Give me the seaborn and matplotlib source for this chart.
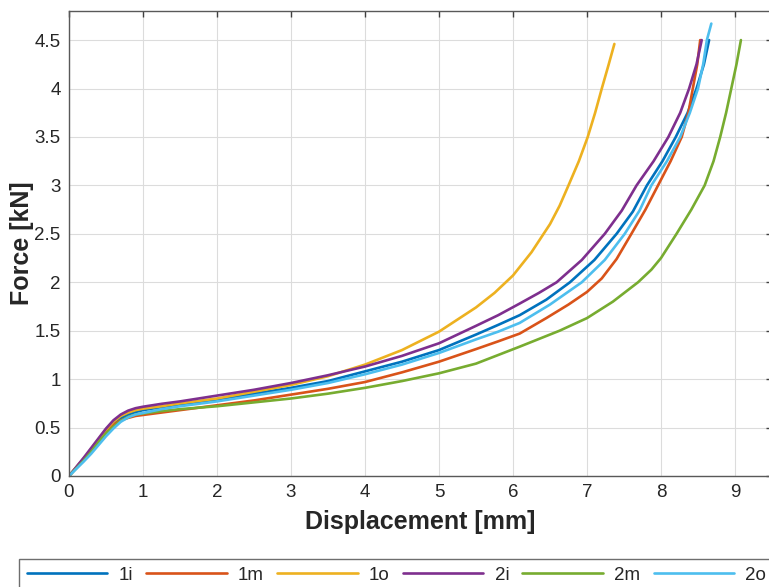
import matplotlib
matplotlib.use("Agg")
import numpy as np
import pandas as pd
import matplotlib.pyplot as plt
import seaborn as sns

# ---------------- data ----------------
names = ["1i", "1m", "1o", "2i", "2m", "2o"]
colors = ["#0072BD", "#D95319", "#EDB120", "#7E2F8E", "#77AC30", "#4DBEEE"]

x_1i = [0, 0.2, 0.3, 0.4, 0.5, 0.6, 0.7, 0.8, 0.9, 1.0, 1.25, 1.5, 2, 2.5, 3, 3.5, 4, 4.5, 5, 5.5, 5.8, 6.09,
        6.45, 6.77, 7.1, 7.40, 7.62, 7.81, 8.02, 8.20, 8.36, 8.48, 8.58, 8.65]
f_1i = [0, 0.17, 0.26, 0.36, 0.455, 0.535, 0.595, 0.635, 0.66, 0.68, 0.71, 0.74, 0.79, 0.85, 0.91, 0.98, 1.08, 1.18, 1.30, 1.46, 1.56, 1.66,
        1.82, 2.0, 2.23, 2.5, 2.73, 3.0, 3.25, 3.5, 3.75, 4.0, 4.25, 4.5]

x_1m = [0, 0.2, 0.3, 0.4, 0.5, 0.6, 0.7, 0.8, 0.9, 1.0, 1.25, 1.5, 2, 2.5, 3, 3.5, 4, 4.5, 5, 5.5, 5.8, 6.09,
        6.45, 6.75, 7.0, 7.2, 7.4, 7.6, 7.79, 7.96, 8.13, 8.28, 8.37, 8.43, 8.49, 8.53]
f_1m = [0, 0.18, 0.27, 0.37, 0.46, 0.53, 0.575, 0.60, 0.62, 0.63, 0.655, 0.68, 0.73, 0.78, 0.84, 0.90, 0.97, 1.07, 1.18, 1.31, 1.39, 1.47,
        1.63, 1.77, 1.90, 2.04, 2.24, 2.5, 2.75, 3.0, 3.25, 3.5, 3.75, 4.0, 4.25, 4.5]

x_1o = [0, 0.2, 0.3, 0.4, 0.5, 0.6, 0.7, 0.8, 0.9, 1.0, 1.25, 1.5, 2, 2.5, 3, 3.5, 4, 4.5, 5, 5.5, 5.75, 6.0,
        6.25, 6.5, 6.63, 6.75, 6.89, 7.01, 7.11, 7.2, 7.29, 7.37]
f_1o = [0, 0.18, 0.28, 0.38, 0.48, 0.56, 0.62, 0.655, 0.68, 0.695, 0.72, 0.75, 0.80, 0.87, 0.94, 1.03, 1.15, 1.30, 1.49, 1.74, 1.89, 2.07,
        2.31, 2.6, 2.79, 3.0, 3.25, 3.5, 3.75, 4.0, 4.24, 4.46]

x_2i = [0, 0.2, 0.3, 0.4, 0.5, 0.6, 0.7, 0.8, 0.9, 1.0, 1.25, 1.5, 2, 2.5, 3, 3.5, 4, 4.5, 5, 5.5, 5.8, 6.09,
        6.35, 6.59, 6.93, 7.24, 7.47, 7.67, 7.9, 8.10, 8.26, 8.38, 8.48, 8.55]
f_2i = [0, 0.19, 0.29, 0.39, 0.49, 0.575, 0.635, 0.675, 0.70, 0.715, 0.745, 0.77, 0.83, 0.89, 0.96, 1.04, 1.13, 1.24, 1.37, 1.55, 1.66, 1.78,
        1.89, 2.0, 2.23, 2.5, 2.74, 3.0, 3.25, 3.5, 3.75, 4.0, 4.25, 4.5]

x_2m = [0, 0.2, 0.3, 0.4, 0.5, 0.6, 0.7, 0.8, 0.9, 1.0, 1.25, 1.5, 2, 2.5, 3, 3.5, 4, 4.5, 5, 5.5, 6.09, 6.63,
        7.0, 7.35, 7.69, 7.87, 8.0, 8.21, 8.41, 8.59, 8.71, 8.8, 8.88, 8.95, 9.02, 9.08]
f_2m = [0, 0.16, 0.25, 0.35, 0.44, 0.51, 0.57, 0.61, 0.635, 0.645, 0.67, 0.69, 0.72, 0.76, 0.80, 0.85, 0.91, 0.98, 1.06, 1.16, 1.335, 1.5,
        1.63, 1.80, 2.0, 2.13, 2.25, 2.5, 2.75, 3.0, 3.25, 3.5, 3.75, 4.0, 4.25, 4.5]

x_2o = [0, 0.2, 0.3, 0.4, 0.5, 0.6, 0.7, 0.8, 0.9, 1.0, 1.25, 1.5, 2, 2.5, 3, 3.5, 4, 4.5, 5, 5.5, 5.8, 6.09,
        6.5, 6.93, 7.24, 7.51, 7.71, 7.87, 8.08, 8.26, 8.39, 8.5, 8.57, 8.62, 8.68]
f_2o = [0, 0.15, 0.23, 0.32, 0.41, 0.49, 0.56, 0.605, 0.635, 0.65, 0.69, 0.72, 0.77, 0.83, 0.89, 0.96, 1.05, 1.15, 1.27, 1.41, 1.49, 1.58,
        1.77, 2.0, 2.23, 2.5, 2.74, 3.0, 3.25, 3.5, 3.75, 4.0, 4.25, 4.5, 4.67]

x_ticks = [0, 1, 2, 3, 4, 5, 6, 7, 8, 9]
x_ticklabels = ["0", "1", "2", "3", "4", "5", "6", "7", "8", "9"]
y_ticks = [0, 0.5, 1, 1.5, 2, 2.5, 3, 3.5, 4, 4.5]
y_ticklabels = ["0", "0.5", "1", "1.5", "2", "2.5", "3", "3.5", "4", "4.5"]

xs = [x_1i, x_1m, x_1o, x_2i, x_2m, x_2o]
fs = [f_1i, f_1m, f_1o, f_2i, f_2m, f_2o]

frames = []
for n, x, f in zip(names, xs, fs):
    frames.append(pd.DataFrame({"Displacement": x, "Force": f, "Specimen": n}))
df = pd.concat(frames, ignore_index=True)

# ---------------- style ----------------
sns.set_theme(style="white")
plt.rcParams["font.family"] = ["Liberation Sans", "DejaVu Sans"]
txt = "#262626"

W, H = 769, 587
fig = plt.figure(figsize=(W / 100, H / 100), dpi=100)
left_px, right_px, top_px, bottom_px = 69, 772, 11, 476
ax = fig.add_axes([left_px / W, 1 - bottom_px / H, (right_px - left_px) / W, (bottom_px - top_px) / H])

sns.lineplot(data=df, x="Displacement", y="Force", hue="Specimen",
             hue_order=names, palette=colors, sort=False, estimator=None,
             linewidth=1.9, ax=ax)
for ln in ax.get_lines():
    ln.set_solid_joinstyle("round")

ax.set_xlim(0, 9.5)
ax.set_ylim(0, 4.8)
ax.set_xticks(x_ticks)
ax.set_xticklabels(x_ticklabels)
ax.set_yticks(y_ticks)
ax.set_yticklabels(y_ticklabels)

ax.grid(True, color="#dcdcdc", linewidth=0.8)
ax.set_axisbelow(True)
for s in ax.spines.values():
    s.set_color("#595959")
    s.set_linewidth(1.0)
ax.spines["right"].set_visible(False)

ax.tick_params(axis="both", which="both", direction="in", length=4.5, width=1.0,
               color="#404040", labelsize=13.5, labelcolor=txt,
               top=True, right=True)
ax.tick_params(axis="x", pad=6)
ax.tick_params(axis="y", pad=6)

ax.set_xlabel("Displacement [mm]", fontsize=18, fontweight="bold", color=txt, labelpad=6)
ax.set_ylabel("Force [kN]", fontsize=18, fontweight="bold", color=txt, labelpad=0)

handles, labels = ax.get_legend_handles_labels()
ax.get_legend().remove()
leg = fig.legend(handles, labels, loc="upper left",
                 bbox_to_anchor=(19 / W, 1 - 559 / H), ncol=6,
                 frameon=True, fancybox=False, edgecolor="#6e6e6e",
                 framealpha=1, handlelength=4.3, handletextpad=0.6,
                 columnspacing=0.7, borderpad=0.4, fontsize=13.5,
                 borderaxespad=0)
leg.get_frame().set_linewidth(1.0)
for t in leg.get_texts():
    t.set_color(txt)
for l in leg.get_lines():
    l.set_linewidth(1.9)

fig.savefig("out.png", dpi=100)
